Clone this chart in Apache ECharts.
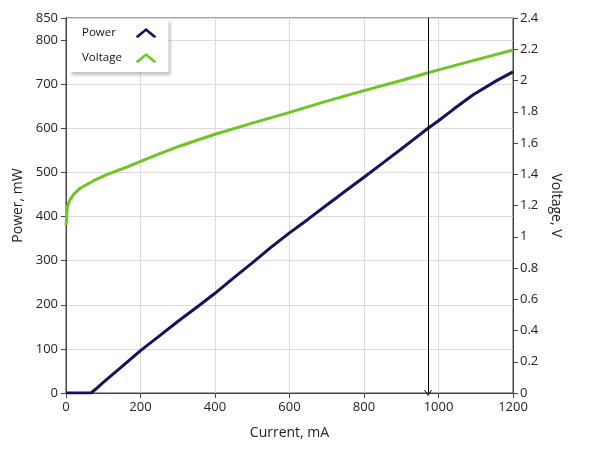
<!DOCTYPE html>
<html><head><meta charset="utf-8">
<script src="https://cdn.jsdelivr.net/npm/echarts@6/dist/echarts.min.js"></script>
<style>html,body{margin:0;padding:0;background:#fff}#c{width:589px;height:456px}</style>
</head><body><div id="c"></div>
<script>
// Power curve (current mA -> power mW)
const powerCurrent = [0, 30, 67, 80, 100, 150, 200, 250, 300, 360, 400, 450, 500, 550, 600, 650, 700, 730, 750, 800, 850, 900, 929, 972, 1000, 1040, 1093, 1156, 1200];
const powerValues  = [0, 0, 0, 9, 24, 60, 96, 129, 162, 200, 226, 261, 295, 330, 363, 394, 426, 445, 458, 489, 521, 553, 572, 600, 617, 643, 676, 708, 728];
// Voltage curve (current mA -> voltage V)
const voltageCurrent = [0, 1.5, 3.6, 10, 20, 37.6, 73, 109, 163, 200, 252, 306, 400, 500, 600, 700, 800, 900, 972, 1000, 1100, 1200];
const voltageValues  = [1.075, 1.12, 1.19, 1.235, 1.27, 1.31, 1.357, 1.397, 1.446, 1.483, 1.532, 1.581, 1.656, 1.727, 1.796, 1.868, 1.935, 2.0, 2.05, 2.068, 2.132, 2.195];
// Cursor marker position (mA)
const markerCurrent = 972;
const seriesNames = ['Power', 'Voltage'];
const axisNames = {x: 'Current, mA', yLeft: 'Power, mW', yRight: 'Voltage, V'};

const NAVY = '#12125e', GREEN = '#6dc623', AX = '#444';
const FONT = 'Open Sans';
const chevron = 'path://M0,9 L11,0 L22,9 L19.5,10.5 L11,3.5 L2.5,10.5 Z';
const plain = v => String(v);

const chart = echarts.init(document.getElementById('c'), null, {renderer: 'canvas'});
chart.setOption({
  animation: false,
  textStyle: {fontFamily: FONT},
  grid: {left: 66, right: 76, top: 18, bottom: 63, show: true, borderColor: AX, borderWidth: 1, backgroundColor: 'transparent'},
  legend: {
    left: 68, top: 19, orient: 'vertical', align: 'right',
    itemWidth: 22, itemHeight: 10, itemGap: 13,
    padding: [8, 12, 8, 14],
    backgroundColor: '#fff',
    shadowColor: 'rgba(0,0,0,0.25)', shadowBlur: 3, shadowOffsetX: 3, shadowOffsetY: 3,
    formatter: '{a|{name}}',
    textStyle: {rich: {a: {width: 48, align: 'left', fontSize: 11.5, color: '#111', fontFamily: FONT}}},
    data: [
      {name: seriesNames[0], icon: chevron, itemStyle: {color: NAVY}},
      {name: seriesNames[1], icon: chevron, itemStyle: {color: GREEN}}
    ]
  },
  xAxis: {
    type: 'value', min: 0, max: 1200, interval: 200,
    name: axisNames.x, nameLocation: 'middle', nameGap: 33,
    nameTextStyle: {fontSize: 14, color: '#222', fontFamily: FONT},
    axisLine: {show: true, lineStyle: {color: AX}},
    axisTick: {show: true, length: 5, lineStyle: {color: AX}},
    axisLabel: {fontSize: 13, color: '#222', margin: 8, formatter: plain},
    splitLine: {show: true, lineStyle: {color: '#dcdcdc'}}
  },
  yAxis: [{
    type: 'value', min: 0, max: 850, interval: 100, position: 'left',
    name: axisNames.yLeft, nameLocation: 'middle', nameGap: 40,
    nameTextStyle: {fontSize: 14, color: '#222', fontFamily: FONT},
    axisLine: {show: true, lineStyle: {color: AX}},
    axisTick: {show: true, length: 5, lineStyle: {color: AX}},
    axisLabel: {fontSize: 13, color: '#222', margin: 8, formatter: plain},
    splitLine: {show: true, lineStyle: {color: '#dcdcdc'}}
  }, {
    type: 'value', min: 0, max: 2.4, interval: 0.2, position: 'right',
    name: axisNames.yRight, nameLocation: 'middle', nameGap: 34, nameRotate: -90,
    nameTextStyle: {fontSize: 14, color: '#222', fontFamily: FONT},
    axisLine: {show: true, lineStyle: {color: AX}},
    axisTick: {show: true, length: 5, lineStyle: {color: AX}},
    axisLabel: {fontSize: 13, color: '#222', margin: 7},
    splitLine: {show: false}
  }],
  series: [{
    name: seriesNames[0], type: 'line', yAxisIndex: 0,
    data: powerCurrent.map((c, i) => [c, powerValues[i]]),
    showSymbol: false, symbol: 'none', color: NAVY,
    lineStyle: {color: NAVY, width: 3},
    markLine: {
      silent: true, animation: false,
      symbol: ['path://M0,10 L5,0 L10,10 L8.8,10 L5,2.4 L1.2,10 Z', 'none'], symbolSize: [8, 6],
      lineStyle: {color: '#000', width: 1, type: 'solid'},
      label: {show: false},
      emphasis: {disabled: true},
      data: [{xAxis: markerCurrent}]
    }
  }, {
    name: seriesNames[1], type: 'line', yAxisIndex: 1,
    data: voltageCurrent.map((c, i) => [c, voltageValues[i]]),
    showSymbol: false, symbol: 'none', color: GREEN,
    lineStyle: {color: GREEN, width: 3}
  }]
});
</script>
</body></html>
